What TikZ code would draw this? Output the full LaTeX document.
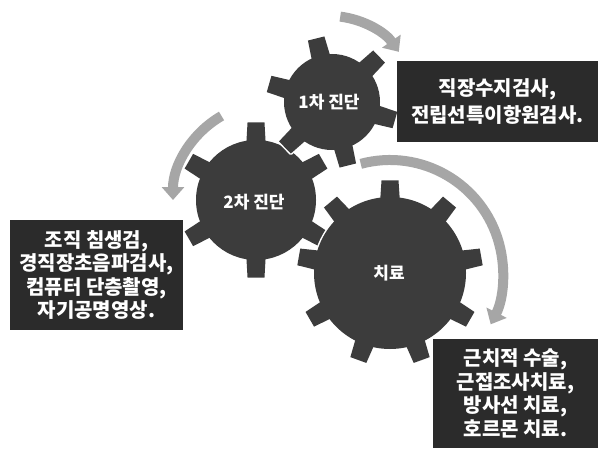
\documentclass[tikz,border=0pt]{standalone}
\usepackage{fontspec}
\setmainfont{Noto Sans CJK KR}
\usetikzlibrary{arrows.meta}
\definecolor{gearcol}{HTML}{3C3C3C}
\definecolor{boxcol}{HTML}{2B2B2B}
\definecolor{arrowcol}{HTML}{A6A6A6}
\tikzset{
  gearedge/.style={fill=gearcol,draw=white,line width=3pt,line join=round},
  gearbody/.style={fill=gearcol},
  gearlabel/.style={text=white,font=\bfseries\fontsize{17}{20}\selectfont},
  infobox/.style={fill=boxcol,text=white,align=center,inner sep=0pt,
    font=\bfseries\fontsize{20}{23.5}\selectfont},
  turnarrow/.style={draw=arrowcol,line width=10pt,
    -{Triangle[width=22pt,length=13pt]}}
}
\newcommand\gearshape[7]{% style, cx, cy, rb, ro, n, offset
  \begin{scope}[shift={(#2,#3)}]
    \path[#1] (0,0) circle[radius=#4];
    \foreach \k in {1,...,#6}{
      \pgfmathsetmacro\ga{#7+360/#6*(\k-1)}
      \pgfmathsetmacro\gdb{10.5/#4*57.2958}
      \pgfmathsetmacro\gdt{8.5/#5*57.2958}
      \pgfmathsetmacro\gaA{\ga-\gdb}
      \pgfmathsetmacro\gaB{\ga-\gdt}
      \pgfmathsetmacro\gaC{\ga+\gdt}
      \pgfmathsetmacro\gaD{\ga+\gdb}
      \pgfmathsetmacro\gri{#4-4}
      \path[#1] (\gaA:\gri) -- (\gaB:#5) -- (\gaC:#5) -- (\gaD:\gri) -- cycle;
    }
  \end{scope}}
\begin{document}
\begin{tikzpicture}[x=1pt,y=1pt]
\useasboundingbox[fill=white] (0,0) rectangle (601,448);

% gears
\gearshape{gearedge}{256}{248}{60}{78}{6}{90}
\gearshape{gearbody}{256}{248}{60}{78}{6}{90}
\gearshape{gearedge}{332}{346}{48}{66}{6}{104}
\gearshape{gearbody}{332}{346}{48}{66}{6}{104}
\gearshape{gearedge}{390}{175}{76}{93}{9}{90}
\gearshape{gearbody}{390}{175}{76}{93}{9}{90}

\node[gearlabel] (g1) at (329,346) {1차 진단};
\node[gearlabel] (g2) at (254,246) {2차 진단};
\node[gearlabel] (g3) at (389,175) {치료};

% arrows
\coordinate (c1) at (330,348);
\coordinate (c2) at (270,248);
\coordinate (c3) at (390,175);
\draw[turnarrow] ([shift={(83:84)}]c1) arc[start angle=83,end angle=35,radius=84];
\draw[turnarrow] ([shift={(120:97)}]c2) arc[start angle=120,end angle=180,radius=97];
\draw[turnarrow] ([shift={(105:113)}]c3) arc[start angle=105,end angle=-27,radius=113];

% boxes
\node[infobox,minimum width=201pt,minimum height=81pt,
  font=\bfseries\fontsize{20}{27.5}\selectfont] (b1) at (497.5,346.5)
  {직장수지검사,\\전립선특이항원검사.};
\node[infobox,minimum width=173pt,minimum height=110pt] (b2) at (96.5,173)
  {조직 침생검,\\경직장초음파검사,\\컴퓨터 단층촬영,\\자기공명영상.};
\node[infobox,minimum width=165pt,minimum height=109pt] (b3) at (515.5,54.5)
  {근치적 수술,\\근접조사치료,\\방사선 치료,\\호르몬 치료.};
\end{tikzpicture}
\end{document}
